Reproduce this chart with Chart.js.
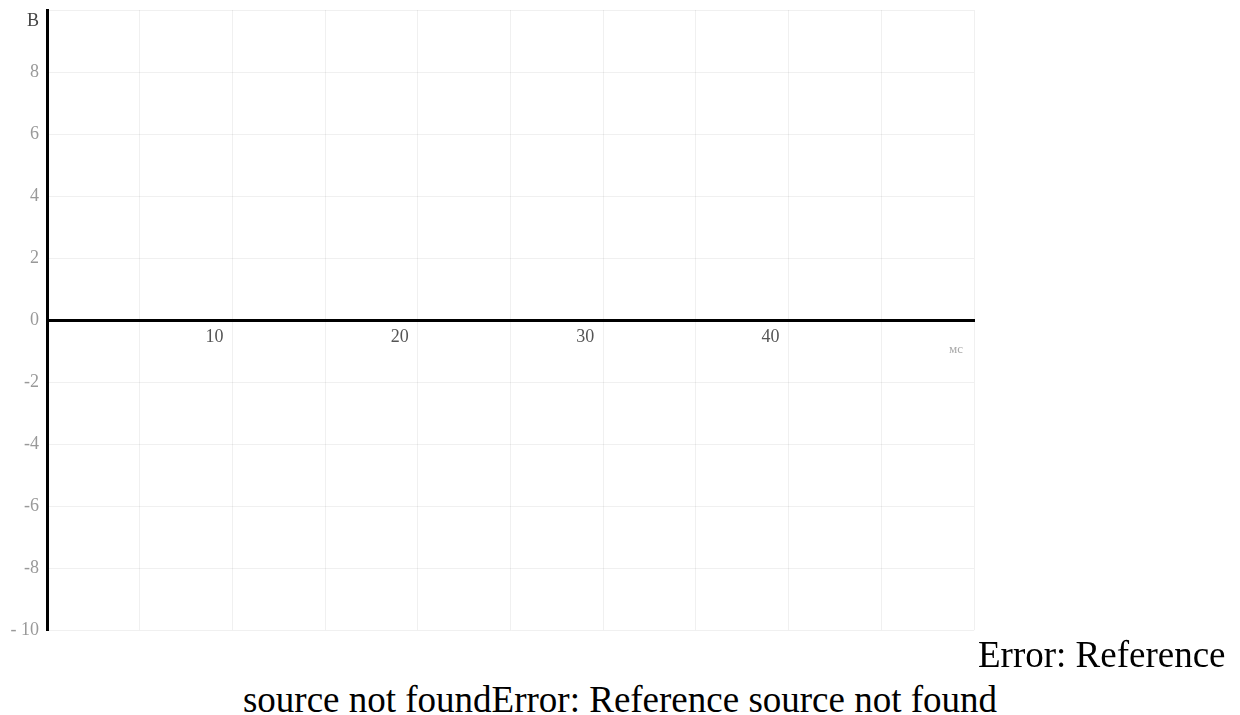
<!DOCTYPE html>
<html>
<head>
<meta charset="utf-8">
<script src="https://cdn.jsdelivr.net/npm/chart.js@4"></script>
<style>
  body { margin: 0; background: #fff; width: 1240px; height: 715px; overflow: hidden; position: relative; }
  #box { position: absolute; left: 0; top: 0; width: 987px; height: 649px; }
  .ref { position: absolute; font-family: "Liberation Serif", "Times New Roman", serif; font-size: 37px; line-height: 44px; color: #000; white-space: nowrap; margin: 0; }
</style>
</head>
<body>
<div id="box"><canvas id="graph"></canvas></div>
<p class="ref" style="left:978px; top:633px;">Error: Reference</p>
<p class="ref" style="left:0; width:1240px; text-align:center; top:678px;">source not foundError: Reference source not found</p>
<script>
// оси графика
const timeTicks = [0, 5, 10, 15, 20, 25, 30, 35, 40, 45, 50];
const timeLabels = ['', '', '10', '', '20', '', '30', '', '40', '', ['', 'мс']];
const voltTicks = [-10, -8, -6, -4, -2, 0, 2, 4, 6, 8, 10];
const voltLabels = ['- 10', '-8', '-6', '-4', '-2', '0', '2', '4', '6', '8', ['', 'В']];

// сигнала нет, только пустые оси
const signal = [];

const config = {
    type: 'line',
    data: {
        datasets: [{
            data: signal,
            borderColor: '#000',
            borderWidth: 2,
            pointRadius: 0
        }]
    },
    options: {
        responsive: true,
        maintainAspectRatio: false,
        animation: false,
        layout: { padding: { top: 2, right: 5, bottom: 0, left: 0 } },
        plugins: { legend: { display: false }, tooltip: { enabled: false } },
        scales: {
            x: {
                type: 'linear',
                min: timeTicks[0],
                max: timeTicks[timeTicks.length - 1],
                position: { y: 0 },
                afterBuildTicks: (s) => { s.ticks = timeTicks.map(v => ({ value: v })); },
                border: { color: '#000', width: 3 },
                grid: { color: 'rgba(0,0,0,0.06)', drawTicks: false },
                ticks: {
                    autoSkip: false,
                    maxRotation: 0,
                    padding: 6,
                    labelOffset: -18,
                    callback: (v, i) => timeLabels[i],
                    color: (c) => c.index === timeLabels.length - 1 ? '#aaa' : '#555',
                    font: (c) => ({
                        family: '"Liberation Serif", serif',
                        size: c.index === timeLabels.length - 1 ? 13 : 18
                    })
                }
            },
            y: {
                type: 'linear',
                min: voltTicks[0],
                max: voltTicks[voltTicks.length - 1],
                position: 'left',
                afterBuildTicks: (s) => { s.ticks = voltTicks.map(v => ({ value: v })); },
                afterFit: (s) => { s.width = 47; s.paddingTop = 10; },
                border: { color: '#000', width: 3 },
                grid: { color: 'rgba(0,0,0,0.06)', drawTicks: false },
                ticks: {
                    padding: 8,
                    callback: (v, i) => voltLabels[i],
                    color: (c) => c.index === voltLabels.length - 1 ? '#444' : '#999',
                    font: { family: '"Liberation Serif", serif', size: 18 }
                }
            }
        }
    }
};

const graph = new Chart(document.getElementById('graph'), config);
</script>
</body>
</html>
